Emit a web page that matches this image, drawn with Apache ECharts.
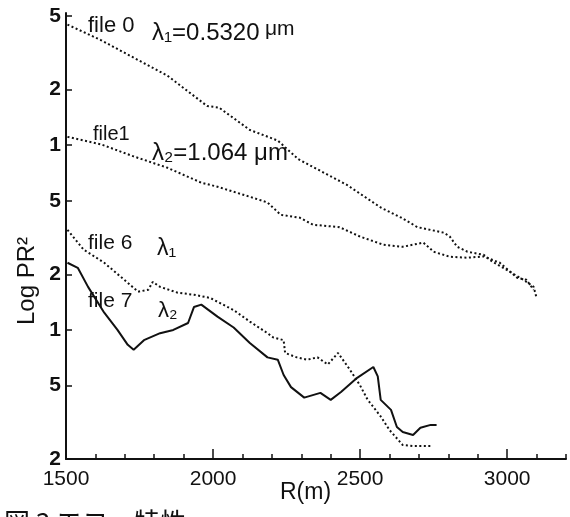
<!DOCTYPE html>
<html>
<head>
<meta charset="utf-8">
<title>Log PR2</title>
<script src="https://cdn.jsdelivr.net/npm/echarts@6/dist/echarts.min.js"></script>
<style>
  html, body { margin: 0; padding: 0; background: #fff; }
  #chart { width: 570px; height: 517px; }
</style>
</head>
<body>
<div id="chart"></div>
<script>
// file 0 (lambda1 = 0.5320 um)
var r0 = [1505, 1620, 1730, 1845, 1980, 2020, 2125, 2220, 2290, 2455, 2570, 2640, 2695, 2785, 2805, 2830, 2865, 2920, 2950, 3010, 3055, 3090, 3100];
var p0 = [450, 370, 298, 238, 163, 160, 121, 106, 84, 61, 46, 40.5, 36, 33.6, 32, 28.2, 26.5, 25.5, 23.4, 20.6, 18.7, 17.1, 14.9];
// file 1 (lambda2 = 1.064 um)
var r1 = [1505, 1620, 1730, 1845, 1960, 2015, 2070, 2125, 2185, 2230, 2295, 2340, 2430, 2500, 2580, 2645, 2715, 2750, 2805, 2865, 2920, 2975, 3035, 3065, 3090];
var p1 = [111, 101, 87, 75.5, 62.7, 59.6, 56, 52.6, 49, 42, 40.5, 37.1, 36, 32, 28.9, 28.2, 29.7, 26.5, 24.9, 24.6, 25, 23.1, 19.1, 18.7, 16.5];
// file 6
var r6 = [1505, 1560, 1630, 1710, 1745, 1780, 1795, 1820, 1880, 1935, 1990, 2070, 2125, 2185, 2205, 2240, 2245, 2285, 2320, 2355, 2390, 2425, 2465, 2500, 2525, 2570, 2600, 2645, 2680, 2740];
var p6 = [34.8, 27.2, 23.1, 18, 16.1, 16.5, 18.2, 17.1, 15.9, 15.5, 14.9, 12.8, 11.1, 9.6, 9.1, 8.8, 7.5, 7.1, 6.9, 7.1, 6.5, 7.5, 6.1, 5.0, 4.2, 3.4, 2.87, 2.38, 2.35, 2.35];
// file 7
var r7 = [1505, 1540, 1575, 1630, 1675, 1710, 1730, 1765, 1820, 1865, 1915, 1935, 1960, 2015, 2070, 2125, 2185, 2220, 2240, 2265, 2310, 2365, 2400, 2435, 2490, 2545, 2560, 2570, 2605, 2625, 2645, 2680, 2705, 2740, 2760];
var p7 = [23.1, 21.7, 17.1, 12.4, 10, 8.3, 7.8, 8.8, 9.6, 10, 10.9, 13.3, 13.7, 11.8, 10.3, 8.5, 7.1, 6.9, 5.7, 4.9, 4.3, 4.56, 4.18, 4.61, 5.5, 6.3, 5.6, 4.18, 3.69, 2.98, 2.8, 2.7, 2.95, 3.06, 3.06];

var yTicks = [2, 5, 10, 20, 50, 100, 200, 500];
var yLabels = ['2', '5', '1', '2', '5', '1', '2', '5'];
var xLabels = [1500, 2000, 2500, 3000];
var xMajor = [2000, 2500, 3000];

var font = '"Liberation Sans", "DejaVu Sans", sans-serif';
var ink = '#111';

function pairs(xs, ys) {
    var out = [];
    for (var i = 0; i < xs.length; i++) out.push([xs[i], ys[i]]);
    return out;
}

function yLabel(v) {
    var best = 0;
    for (var i = 1; i < yTicks.length; i++) {
        if (Math.abs(Math.log10(yTicks[i]) - Math.log10(v)) < Math.abs(Math.log10(yTicks[best]) - Math.log10(v))) best = i;
    }
    return yLabels[best];
}

function line(name, xs, ys, dash) {
    return {
        name: name,
        type: 'line',
        data: pairs(xs, ys),
        showSymbol: false,
        smooth: false,
        lineStyle: { color: ink, width: 2, type: dash }
    };
}

function label(text, x, y, size) {
    return {
        type: 'text',
        x: x, y: y,
        style: { text: text, fill: ink, font: size + 'px ' + font, textVerticalAlign: 'middle' }
    };
}

var chart = echarts.init(document.getElementById('chart'), null, { renderer: 'canvas' });
chart.setOption({
    animation: false,
    backgroundColor: '#fff',
    grid: { left: 66, right: 4, top: 13, bottom: 58, outerBoundsMode: 'none' },
    xAxis: [{
        type: 'value',
        min: 1500, max: 3200, interval: 100,
        axisLine: { lineStyle: { color: ink, width: 2 } },
        axisTick: { inside: true, length: 5, lineStyle: { color: ink, width: 1.5 } },
        axisLabel: { customValues: xLabels, formatter: function (v) { return String(v); }, color: ink, fontSize: 21, fontFamily: font, margin: 10 },
        splitLine: { show: false }
    }, {
        type: 'value',
        position: 'bottom',
        min: 1500, max: 3200, interval: 100,
        axisLine: { show: false },
        axisTick: { inside: true, length: 10, customValues: xMajor, lineStyle: { color: ink, width: 1.5 } },
        axisLabel: { show: false },
        splitLine: { show: false }
    }],
    yAxis: {
        type: 'log',
        logBase: 10,
        min: 2, max: 520,
        axisLine: { show: true, lineStyle: { color: ink, width: 2 } },
        axisTick: { show: true, inside: true, length: 6, customValues: yTicks, lineStyle: { color: ink, width: 1.5 } },
        axisLabel: { customValues: yTicks, formatter: yLabel, color: ink, fontSize: 21, fontWeight: 'bold', fontFamily: font, margin: 5 },
        splitLine: { show: false }
    },
    series: [
        line('file 0', r0, p0, [2, 2.5]),
        line('file 1', r1, p1, [2, 2.5]),
        line('file 6', r6, p6, [2, 2.5]),
        line('file 7', r7, p7, 'solid')
    ],
    graphic: [
        label('file 0', 88, 26, 22),
        label('λ₁=0.5320', 152, 33, 24),
        label('μm', 265, 29, 21),
        label('file1', 93, 134, 20),
        label('λ₂=1.064 μm', 152, 153, 24),
        label('file 6', 88, 243, 21),
        label('λ₁', 157, 249, 23),
        label('file 7', 88, 301, 21),
        label('λ₂', 158, 311, 22),
        label('R(m)', 280, 493, 23),
        {
            type: 'text', x: 27, y: 281, rotation: Math.PI / 2,
            style: { text: 'Log PR²', fill: ink, font: '24px ' + font, textAlign: 'center', textVerticalAlign: 'middle' }
        },
        {
            type: 'text', x: 4, y: 509,
            style: { text: '図 3 エコー特性', fill: ink, font: '26px "Noto Sans CJK JP"', textVerticalAlign: 'top' }
        }
    ]
});
</script>
</body>
</html>
